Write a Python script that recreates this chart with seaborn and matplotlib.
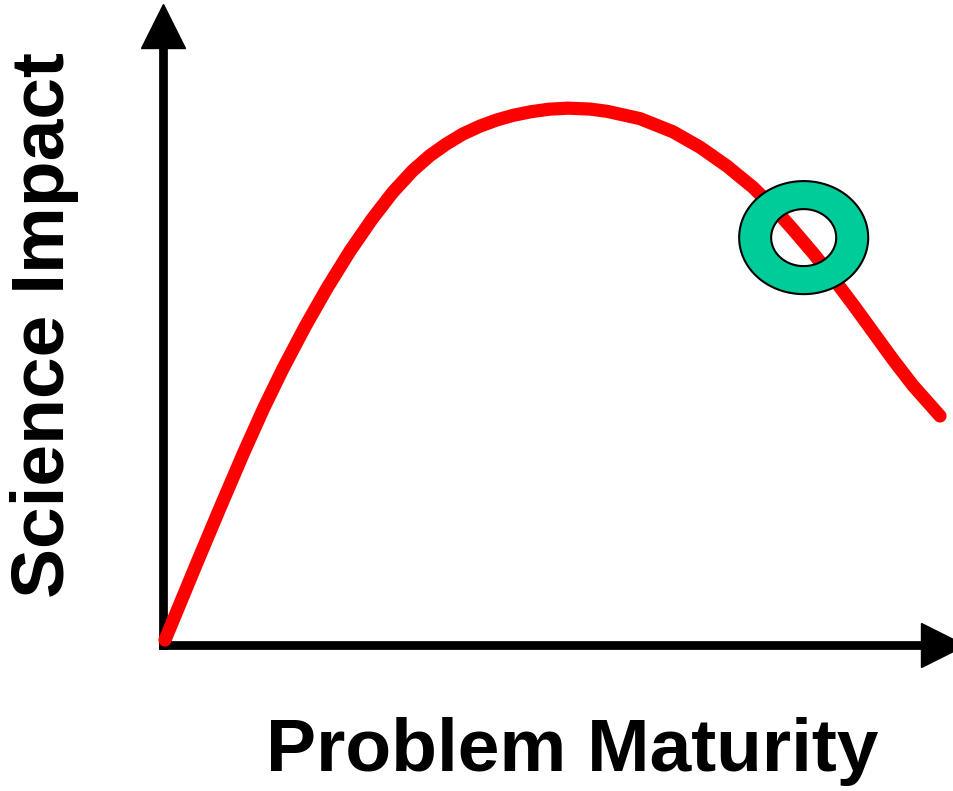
import numpy as np
import pandas as pd
import matplotlib
matplotlib.use("Agg")
import matplotlib.pyplot as plt
from matplotlib.path import Path
from matplotlib.patches import PathPatch
import seaborn as sns

# curve values (maturity 0..10, impact 0..10)
maturity = [0.026, 0.434, 0.750, 1.066, 1.329, 1.579, 1.868, 2.158, 2.461, 2.750,
            3.026, 3.289, 3.513, 3.724, 3.947, 4.171, 4.395, 4.605, 4.842, 5.079,
            5.329, 5.618, 5.842, 6.276, 6.711, 7.066, 7.421, 7.763, 8.026, 8.289,
            8.553, 8.816, 9.079, 9.342, 9.605, 9.868, 10.224]
impact = [0.083, 1.332, 2.285, 3.218, 3.958, 4.607, 5.302, 5.948, 6.567, 7.097,
          7.550, 7.910, 8.158, 8.347, 8.518, 8.648, 8.752, 8.827, 8.888, 8.930,
          8.947, 8.932, 8.895, 8.773, 8.553, 8.297, 7.982, 7.627, 7.300, 6.925,
          6.533, 6.117, 5.675, 5.217, 4.758, 4.325, 3.817]

# ring marker position and size (data units)
ring_x, ring_y = 8.43, 6.79
ring_outer = (0.849, 0.942)
ring_inner = (0.428, 0.475)

df = pd.DataFrame({"Problem Maturity": maturity, "Science Impact": impact})

sns.set_style("white")
plt.rcParams["font.family"] = ["Liberation Sans", "DejaVu Sans"]

fig = plt.figure(figsize=(9.54, 7.91), dpi=100)
ax = fig.add_axes([0, 0, 1, 1])
ax.set_xlim(-2.145, 10.408)
ax.set_ylim(-2.433, 10.75)
ax.axis("off")

# the axes with arrow heads
ax.plot([0, 0], [0, 9.95], color="black", lw=6.3, solid_capstyle="projecting", zorder=2)
ax.plot([0, 10.0], [0, 0], color="black", lw=6.3, solid_capstyle="projecting", zorder=2)
ax.plot(0, 10.31, marker="^", color="black", markersize=31, zorder=3)
ax.plot(10.26, 0, marker=">", color="black", markersize=31, zorder=3, clip_on=False)

# red curve
sns.lineplot(data=df, x="Problem Maturity", y="Science Impact", ax=ax, sort=False,
             color="#ff0000", lw=9.5, solid_capstyle="round", solid_joinstyle="round", zorder=4)

# green ring with a real hole (outer counter-clockwise, inner clockwise)
t = np.linspace(0, 2 * np.pi, 200)
outer = np.column_stack([ring_x + ring_outer[0] * np.cos(t), ring_y + ring_outer[1] * np.sin(t)])
inner = np.column_stack([ring_x + ring_inner[0] * np.cos(-t), ring_y + ring_inner[1] * np.sin(-t)])
verts = np.vstack([outer, inner])
codes = ([Path.MOVETO] + [Path.LINETO] * (len(t) - 2) + [Path.CLOSEPOLY]) * 2
ring = Path(verts, codes)
ax.add_patch(PathPatch(ring, facecolor="#00cc99", edgecolor="black", lw=1.5, zorder=5))

fig.text(45 / 954, 1 - 325 / 791, "Science Impact", rotation=90, fontsize=54,
         fontweight="bold", ha="center", va="center", color="black")
fig.text(572 / 954, 1 - 752 / 791, "Problem Maturity", fontsize=54,
         fontweight="bold", ha="center", va="center", color="black")

fig.savefig("out.png", dpi=100, facecolor="white")
